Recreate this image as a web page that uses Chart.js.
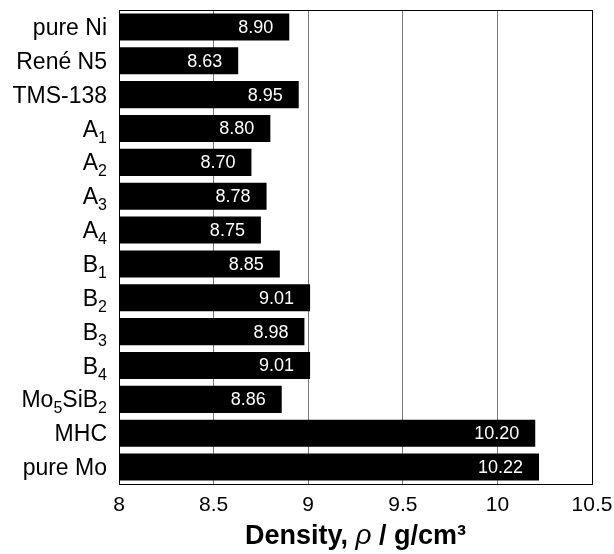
<!DOCTYPE html>
<html>
<head>
<meta charset="utf-8">
<script src="https://cdn.jsdelivr.net/npm/chart.js@4"></script>
<style>
  html, body { margin: 0; padding: 0; background: #fff; }
  #wrap { width: 614px; height: 554px; }
</style>
</head>
<body>
<div id="wrap"><canvas id="densityChart" width="614" height="554"></canvas></div>
<script>
// Density of alloys, horizontal bars
// '_' marks the next character as a subscript
const categories = ['pure Ni', 'René N5', 'TMS-138', 'A_1', 'A_2', 'A_3', 'A_4',
    'B_1', 'B_2', 'B_3', 'B_4', 'Mo_5SiB_2', 'MHC', 'pure Mo'];
const densities = [8.90, 8.63, 8.95, 8.80, 8.70, 8.78, 8.75,
    8.85, 9.01, 8.98, 9.01, 8.86, 10.20, 10.22];
const valueLabels = ['8.90', '8.63', '8.95', '8.80', '8.70', '8.78', '8.75',
    '8.85', '9.01', '8.98', '9.01', '8.86', '10.20', '10.22'];
const xMin = 8;
const xMax = 10.5;
const xStep = 0.5;

const FONT = "'Liberation Sans', Arial, sans-serif";

function _splitLabel(text) {
    // returns [{t, sub}]
    const parts = [];
    let i = 0;
    while (i < text.length) {
        if (text[i] === '_' && i + 1 < text.length) {
            parts.push({ t: text[i + 1], sub: true });
            i += 2;
        } else {
            const last = parts[parts.length - 1];
            if (last && !last.sub) last.t += text[i];
            else parts.push({ t: text[i], sub: false });
            i += 1;
        }
    }
    return parts;
}

const decorPlugin = {
    id: 'decor',
    afterDatasetsDraw(chart) {
        const ctx = chart.ctx;
        const area = chart.chartArea;
        const yScale = chart.scales.y;
        const meta = chart.getDatasetMeta(0);

        ctx.save();

        // value labels inside bars
        ctx.font = '18px ' + FONT;
        ctx.fillStyle = '#fff';
        ctx.textAlign = 'right';
        ctx.textBaseline = 'middle';
        meta.data.forEach((bar, i) => {
            ctx.fillText(valueLabels[i], bar.x - 16, bar.y + 1);
        });

        // frame
        ctx.strokeStyle = '#000';
        ctx.lineWidth = 1;
        ctx.strokeRect(area.left + 0.5, area.top + 0.5, area.right - area.left, area.bottom - area.top);

        // category labels with subscripts
        ctx.fillStyle = '#000';
        ctx.textAlign = 'left';
        ctx.textBaseline = 'alphabetic';
        categories.forEach((label, i) => {
            const parts = _splitLabel(label);
            let w = 0;
            parts.forEach(p => {
                ctx.font = (p.sub ? '16px ' : '23px ') + FONT;
                w += ctx.measureText(p.t).width;
            });
            let x = area.left - 12 - w;
            const y = yScale.getPixelForValue(i) + 8;
            parts.forEach(p => {
                ctx.font = (p.sub ? '16px ' : '23px ') + FONT;
                ctx.fillText(p.t, x, p.sub ? y + 6 : y);
                x += ctx.measureText(p.t).width;
            });
        });

        // axis title with italic rho
        const titleParts = [
            { t: 'Density, ', f: 'bold 27px ' + FONT },
            { t: 'ρ', f: 'italic 28px ' + FONT },
            { t: ' / g/cm³', f: 'bold 27px ' + FONT }
        ];
        let tw = 0;
        titleParts.forEach(p => { ctx.font = p.f; tw += ctx.measureText(p.t).width; });
        let tx = (area.left + area.right) / 2 - tw / 2;
        const ty = area.bottom + 60;
        titleParts.forEach(p => {
            ctx.font = p.f;
            ctx.fillText(p.t, tx, ty);
            tx += ctx.measureText(p.t).width;
        });

        ctx.restore();
    }
};

const ctx = document.getElementById('densityChart').getContext('2d');
const densityChart = new Chart(ctx, {
    type: 'bar',
    data: {
        labels: categories,
        datasets: [
            {
                data: densities,
                backgroundColor: '#000',
                borderWidth: 0,
                barPercentage: 0.8,
                categoryPercentage: 1.0
            }
        ]
    },
    options: {
        indexAxis: 'y',
        responsive: false,
        animation: false,
        layout: {
            padding: { left: 119, right: 22, top: 10, bottom: 32 }
        },
        plugins: {
            legend: { display: false },
            tooltip: { enabled: false }
        },
        scales: {
            x: {
                min: xMin,
                max: xMax,
                ticks: {
                    stepSize: xStep,
                    color: '#000',
                    font: { family: FONT, size: 21 },
                    padding: 9,
                    maxRotation: 0,
                    minRotation: 0,
                    callback: v => String(Number(v.toFixed(1)))
                },
                grid: {
                    color: '#777',
                    lineWidth: 1,
                    drawTicks: false
                },
                border: { display: false },
                afterFit: scale => {
                    scale.height = 38;
                    scale.paddingLeft = 0;
                    scale.paddingRight = 0;
                }
            },
            y: {
                display: false
            }
        }
    },
    plugins: [decorPlugin]
});
</script>
</body>
</html>
